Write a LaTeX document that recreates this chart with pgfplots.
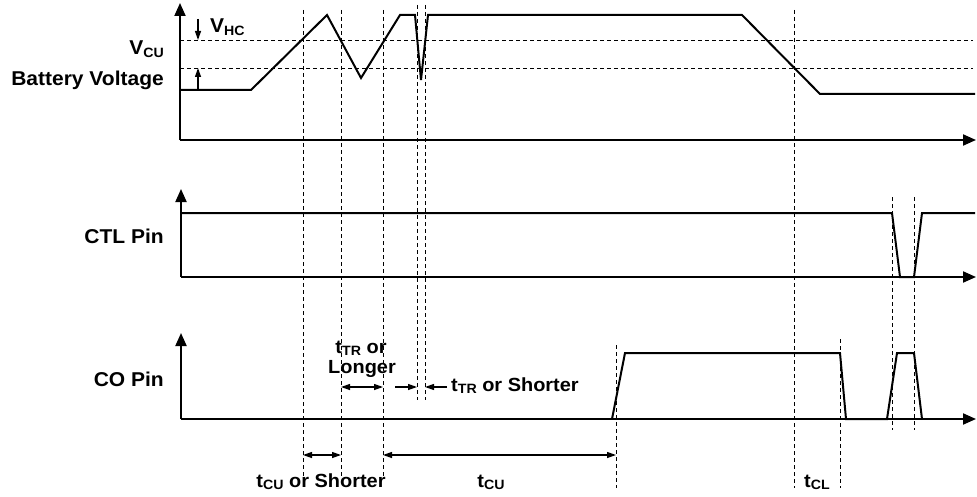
\documentclass[border=0pt]{standalone}
\usepackage{fontspec}
\setmainfont{Liberation Sans}[FakeStretch=1.05]
\usepackage{pgfplots}
\pgfplotsset{compat=1.18}
\usetikzlibrary{arrows.meta}

\newcommand{\lbl}{\fontsize{20bp}{24bp}\selectfont\bfseries}
\newcommand{\ann}{\fontsize{19bp}{22bp}\selectfont\bfseries}
\newcommand{\sub}[1]{\raisebox{-2.4bp}{\fontsize{13.5bp}{15bp}\selectfont\bfseries #1}}

\begin{document}
\begin{tikzpicture}
\begin{axis}[
  scale only axis, width=977bp, height=497bp,
  xmin=0, xmax=977, ymin=0, ymax=497, y dir=reverse,
  hide axis, clip=false,
  wave/.style={black, line width=2bp},
  ax/.style={black, line width=2bp, -{Triangle[length=13bp,width=11bp]}},
  guide/.style={black, line width=0.9bp, dash pattern=on 4bp off 3bp},
  dim/.style={black, line width=1.2bp, {Triangle[length=9bp,width=6bp]}-{Triangle[length=9bp,width=6bp]}},
  one/.style={black, line width=1.2bp, -{Triangle[length=9bp,width=6bp]}},
]
% guide lines
\addplot[guide] coordinates {(180,40) (973,40)};
\addplot[guide] coordinates {(180,68) (973,68)};
\addplot[guide] coordinates {(303,10) (303,477)};
\addplot[guide] coordinates {(341,10) (341,477)};
\addplot[guide] coordinates {(383,10) (383,477)};
\addplot[guide] coordinates {(417,5) (417,400)};
\addplot[guide] coordinates {(425,5) (425,400)};
\addplot[guide] coordinates {(616,345) (616,488)};
\addplot[guide] coordinates {(794,10) (794,488)};
\addplot[guide] coordinates {(840,339) (840,488)};
\addplot[guide] coordinates {(892,197) (892,430)};
\addplot[guide] coordinates {(914,197) (914,430)};

% axes
\addplot[ax] coordinates {(180,140) (180,3)};
\addplot[ax] coordinates {(180,140) (976,140)};
\addplot[ax] coordinates {(181,277) (181,189)};
\addplot[ax] coordinates {(181,277) (976,277)};
\addplot[ax] coordinates {(181,419) (181,333)};
\addplot[ax] coordinates {(181,419) (976,419)};

% battery voltage
\addplot[wave] coordinates {
  (180,90) (251,90) (327,15) (361,78) (400,15) (415,15) (421,80) (428,15)
  (742,15) (820,94) (975,94)
};
% CTL pin
\addplot[wave] coordinates {
  (181,213) (892,213) (900,277) (914,277) (922,213) (975,213)
};
% CO pin
\addplot[wave] coordinates {
  (612,419) (625,353) (840,353) (846,419) (887,419) (897,353) (914,353) (922,419)
};

% V_HC arrows
\addplot[one] coordinates {(198,19) (198,40)};
\addplot[one] coordinates {(198,90) (198,68)};

% timing dimensions
\addplot[dim] coordinates {(341,387) (383,387)};
\addplot[one] coordinates {(395,387) (417,387)};
\addplot[one] coordinates {(447,387) (425,387)};
\addplot[dim] coordinates {(303,455) (341,455)};
\addplot[dim] coordinates {(383,455) (616,455)};

% labels
\node[anchor=base east, inner sep=0pt] at (axis cs:164,55) {\lbl V\sub{CU}};
\node[anchor=base east, inner sep=0pt] at (axis cs:164,86) {\lbl Battery Voltage};
\node[anchor=base west, inner sep=0pt] at (axis cs:210,33) {\lbl V\sub{HC}};
\node[anchor=base east, inner sep=0pt] at (axis cs:164,243) {\lbl CTL Pin};
\node[anchor=base east, inner sep=0pt] at (axis cs:164,386) {\lbl CO Pin};
\node[anchor=base, inner sep=0pt] at (axis cs:361,353) {\ann t\sub{TR} or};
\node[anchor=base, inner sep=0pt] at (axis cs:362,373) {\ann Longer};
\node[anchor=base west, inner sep=0pt] at (axis cs:451,391) {\ann t\sub{TR} or Shorter};
\node[anchor=base, inner sep=0pt] at (axis cs:321,487) {\ann t\sub{CU} or Shorter};
\node[anchor=base, inner sep=0pt] at (axis cs:491,487) {\ann t\sub{CU}};
\node[anchor=base, inner sep=0pt] at (axis cs:817,487) {\ann t\sub{CL}};
\end{axis}
\pgfresetboundingbox
\path (current axis.south west) rectangle (current axis.north east);
\end{tikzpicture}
\end{document}
